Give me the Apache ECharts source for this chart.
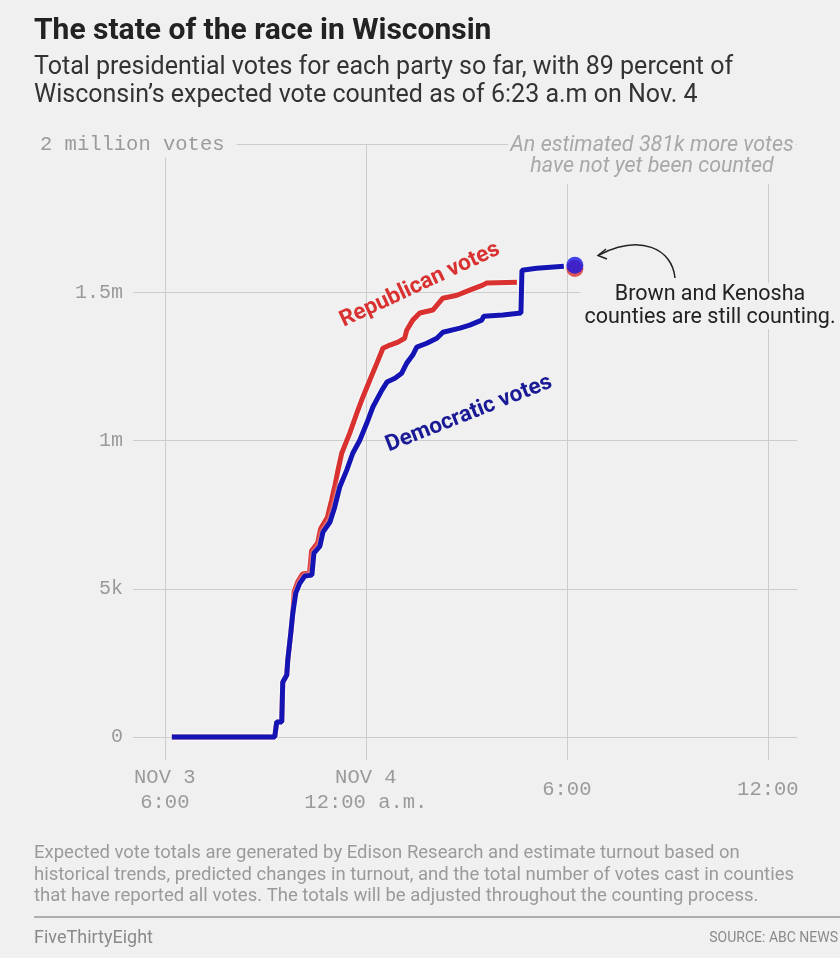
<!DOCTYPE html>
<html><head><meta charset="utf-8">
<script src="https://cdn.jsdelivr.net/npm/echarts@6/dist/echarts.min.js"></script>
<style>html,body{margin:0;padding:0;background:#f0f0f0;}#c{width:840px;height:958px;}</style>
</head><body><div id="c"></div>
<script>
// Hours since midnight, Nov 3 (Nov 4 12:00 a.m. = 24)
const demHours = [18.21, 21.28, 21.34, 21.49, 21.52, 21.64, 21.67, 21.76, 21.82, 21.91, 22.03, 22.18, 22.39, 22.45, 22.63, 22.72, 22.93, 23.07, 23.22, 23.43, 23.61, 23.82, 24.03, 24.21, 24.48, 24.63, 24.87, 25.07, 25.22, 25.40, 25.52, 25.82, 26.12, 26.30, 26.81, 27.10, 27.46, 27.52, 28.09, 28.63, 28.66, 29.10, 29.91];
// Thousands of votes
const demVotes = [0, 0, 51, 51, 185, 209, 260, 351, 418, 486, 519, 543, 546, 620, 644, 691, 725, 775, 843, 900, 957, 1001, 1059, 1113, 1170, 1197, 1210, 1227, 1261, 1288, 1315, 1328, 1345, 1365, 1379, 1389, 1406, 1419, 1423, 1430, 1574, 1581, 1588];
const repHours = [18.21, 21.28, 21.34, 21.49, 21.52, 21.64, 21.67, 21.76, 21.82, 21.86, 21.97, 22.11, 22.32, 22.38, 22.56, 22.65, 22.85, 22.98, 23.08, 23.16, 23.28, 23.52, 23.73, 23.91, 24.12, 24.33, 24.51, 24.72, 24.96, 25.16, 25.22, 25.40, 25.61, 26.00, 26.30, 26.72, 27.10, 27.49, 27.61, 28.51];
const repVotes = [0, 0, 51, 51, 185, 209, 260, 351, 418, 490, 524, 550, 553, 628, 654, 702, 740, 800, 850, 895, 957, 1025, 1092, 1146, 1204, 1261, 1311, 1322, 1332, 1345, 1372, 1406, 1430, 1440, 1480, 1490, 1507, 1524, 1531, 1534];
const latestHour = 30.24;
const demLatest = 1591;
const repLatest = 1580;
const xTickValues = [18, 24, 30, 36];
const xTickLabels = ['NOV 3\n6:00', 'NOV 4\n12:00 a.m.', '6:00', '12:00'];
const yLineValues = [0, 500, 1000, 1500, 2000];
const yLabelValues = [0, 500, 1000, 1500];
const yTickLabels = ['0', '5k', '1m', '1.5m'];

const BG = '#f0f0f0';
const GRID = '#cccccc';
const MONO = '"Liberation Mono", "DejaVu Sans Mono", monospace';
const SANS = 'Roboto, "Noto Sans", sans-serif';
const RED = '#d93030';
const BLUE = '#1414b4';

const chart = echarts.init(document.getElementById('c'), null, {renderer: 'canvas'});
chart.setOption({
  backgroundColor: BG,
  animation: false,
  title: {
    text: 'The state of the race in Wisconsin',
    subtext: 'Total presidential votes for each party so far, with 89 percent of\nWisconsin\u2019s expected vote counted as of 6:23 a.m on Nov. 4',
    left: 34, top: 16, padding: 0, itemGap: 8,
    textStyle: {fontFamily: SANS, fontWeight: 'bold', fontSize: 30, color: '#222'},
    subtextStyle: {fontFamily: SANS, fontSize: 25, color: '#333', lineHeight: 28}
  },
  grid: {left: 133, right: 43, top: 144, bottom: 198},
  xAxis: {
    type: 'value', min: 17.05, max: 36.87,
    axisLine: {show: false},
    axisTick: {show: false, customValues: xTickValues},
    axisLabel: {
      customValues: xTickValues,
      formatter: v => { const i = xTickValues.indexOf(v); return i >= 0 ? xTickLabels[i] : ''; },
      color: '#9a9a9a', fontFamily: MONO, fontSize: 20.5, lineHeight: 25,
      verticalAlign: 'middle', margin: 30
    },
    splitLine: {show: true, lineStyle: {color: GRID, width: 1}}
  },
  yAxis: {
    type: 'value', min: -77.5, max: 2000,
    axisLine: {show: false},
    axisTick: {show: false, customValues: yLineValues},
    axisLabel: {
      customValues: yLabelValues,
      formatter: v => { const i = yLabelValues.indexOf(v); return i >= 0 ? yTickLabels[i] : ''; },
      color: '#9a9a9a', fontFamily: MONO, fontSize: 20, margin: 10
    },
    splitLine: {show: true, lineStyle: {color: GRID, width: 1}}
  },
  series: [
    {
      name: 'Republican votes', type: 'line', showSymbol: false, z: 3,
      data: repHours.map((h, i) => [h, repVotes[i]]),
      lineStyle: {color: RED, width: 5, shadowColor: 'rgba(255,255,255,0.9)', shadowBlur: 3}
    },
    {
      name: 'Democratic votes', type: 'line', showSymbol: false, z: 4,
      data: demHours.map((h, i) => [h, demVotes[i]]),
      lineStyle: {color: BLUE, width: 5, shadowColor: 'rgba(255,255,255,0.9)', shadowBlur: 3}
    },
    {
      type: 'scatter', z: 5, symbolSize: 17,
      data: [[latestHour, repLatest]],
      itemStyle: {color: RED}
    },
    {
      type: 'scatter', z: 6, symbolSize: 17,
      data: [[latestHour, demLatest]],
      itemStyle: {color: '#1616e6'}
    }
  ],
  graphic: [
    {type: 'text', z: 100, x: 40, y: 145, style: {
      text: '2 million votes', font: '20.5px ' + MONO, fill: '#9a9a9a',
      verticalAlign: 'middle', backgroundColor: BG, padding: [2, 12, 2, 0]}},
    {type: 'text', z: 100, x: 652, y: 156, style: {
      text: 'An estimated 381k more votes\nhave not yet been counted',
      font: 'italic 21.5px ' + SANS, fill: '#a8a8a8', align: 'center', verticalAlign: 'middle',
      lineHeight: 21, backgroundColor: BG, padding: [5, 2, 9, 2]}},
    {type: 'text', z: 100, x: 709, y: 306, style: {
      text: 'Brown and Kenosha\ncounties are still counting.',
      font: '21.5px ' + SANS, fill: '#222', align: 'center', verticalAlign: 'middle',
      lineHeight: 23, backgroundColor: BG, padding: [0, 2, 0, 4]}},
    {type: 'bezierCurve', z: 100, shape: {x1: 675, y1: 278, cpx1: 672, cpy1: 248, cpx2: 640, cpy2: 234, x2: 599, y2: 255},
      style: {stroke: '#222', lineWidth: 1.5, fill: null}},
    {type: 'polyline', z: 100, shape: {points: [[606, 249], [598, 255.5], [607, 259]]},
      style: {stroke: '#222', lineWidth: 1.5, fill: null}},
    {type: 'text', z: 100, x: 420, y: 285, rotation: 25 * Math.PI / 180, style: {
      text: 'Republican votes', font: 'bold 22.5px ' + SANS, fill: RED, align: 'center', verticalAlign: 'middle'}},
    {type: 'text', z: 100, x: 469, y: 414, rotation: 21.5 * Math.PI / 180, style: {
      text: 'Democratic votes', font: 'bold 22.5px ' + SANS, fill: '#1a1a96', align: 'center', verticalAlign: 'middle'}},
    {type: 'text', z: 100, x: 34, y: 875, style: {
      text: 'Expected vote totals are generated by Edison Research and estimate turnout based on\nhistorical trends, predicted changes in turnout, and the total number of votes cast in counties\nthat have reported all votes. The totals will be adjusted throughout the counting process.',
      font: '18.5px ' + SANS, fill: '#9a9a9a', verticalAlign: 'middle', lineHeight: 21.5}},
    {type: 'line', z: 100, shape: {x1: 34, y1: 917, x2: 840, y2: 917}, style: {stroke: '#999', lineWidth: 1.5}},
    {type: 'text', z: 100, x: 34, y: 938, style: {
      text: 'FiveThirtyEight', font: '18px ' + SANS, fill: '#8a8a8a', verticalAlign: 'middle'}},
    {type: 'text', z: 100, x: 838, y: 938, style: {
      text: 'SOURCE: ABC NEWS', font: '14px ' + SANS, fill: '#8a8a8a', align: 'right', verticalAlign: 'middle'}}
  ]
});
</script></body></html>
